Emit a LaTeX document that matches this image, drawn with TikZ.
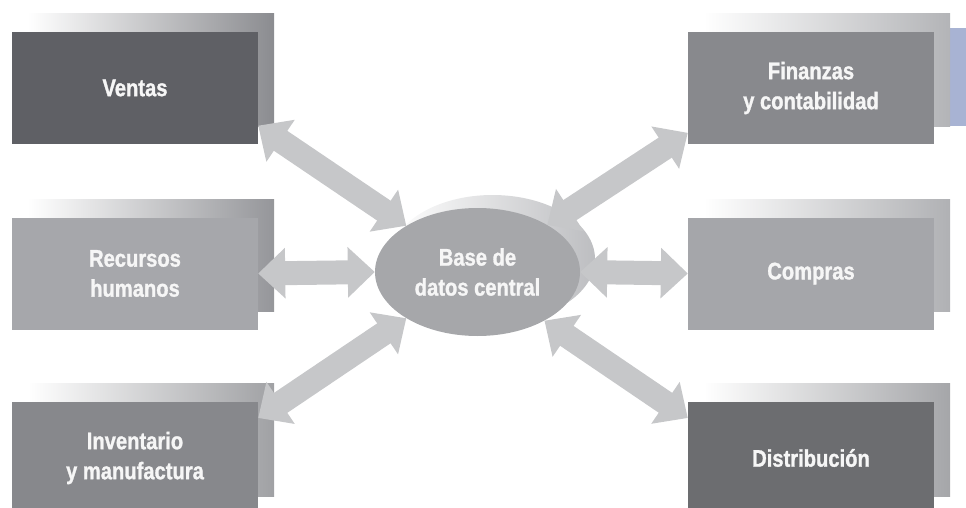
\documentclass[tikz,border=0pt]{standalone}
\usepackage{fontspec}
\setmainfont{Liberation Sans}[FakeStretch=0.84, BoldFeatures={FakeBold=1.2}]
\usetikzlibrary{arrows.meta,shapes.geometric,calc,backgrounds}
\definecolor{arrowgray}{HTML}{C6C7C9}
\definecolor{txt}{HTML}{F6F6F6}
\definecolor{fVentas}{HTML}{5F6065}
\definecolor{bVentas}{HTML}{8B8C90}
\definecolor{fFin}{HTML}{88898D}
\definecolor{bFin}{HTML}{B3B4B7}
\definecolor{fRec}{HTML}{A6A7AB}
\definecolor{bRec}{HTML}{95969A}
\definecolor{fCom}{HTML}{A5A6AA}
\definecolor{bCom}{HTML}{B0B1B4}
\definecolor{fInv}{HTML}{87888C}
\definecolor{bInv}{HTML}{A0A1A4}
\definecolor{fDis}{HTML}{6C6D70}
\definecolor{bDis}{HTML}{A5A6A9}
\definecolor{dbgray}{HTML}{A6A7AA}
\definecolor{dbshadow}{HTML}{BDBEC1}
\definecolor{bluish}{HTML}{A8B3D3}
\tikzset{
  box/.style={rectangle, minimum width=246pt, minimum height=112pt, inner sep=0pt,
    text=txt, align=center, font=\bfseries\fontsize{24}{30}\selectfont},
  dbnode/.style={ellipse, minimum width=205pt, minimum height=128pt, inner sep=0pt,
    fill=dbgray, text=txt, align=center, font=\bfseries\fontsize{24}{30}\selectfont},
  fat/.style={draw=arrowgray, line width=24pt,
    arrows={Triangle[width=49pt,length=27pt,fill=arrowgray]-Triangle[width=49pt,length=27pt,fill=arrowgray]}},
  backbox/.style={left color=white, right color=#1}
}
\begin{document}
\begin{tikzpicture}[x=1pt,y=-1pt]
\useasboundingbox (0,0) rectangle (966,508);
% front boxes
\node[box, fill=fVentas] (ventas) at (135,88) {Ventas};
\node[box, fill=fRec] (recursos) at (135,273.5) {Recursos\\humanos};
\node[box, fill=fInv] (inventario) at (135,458) {Inventario\\y manufactura};
\node[box, fill=fFin] (finanzas) at (811,88) {Finanzas\\y contabilidad};
\node[box, fill=fCom] (compras) at (811,273.5) {Compras};
\node[box, fill=fDis] (distribucion) at (811,458) {Distribución};
\node[dbnode] (db) at (477.5,272) {Base de\\datos central};
\begin{pgfonlayer}{background}
  \fill[bluish] ($(finanzas.north east)+(16,-4)$) rectangle ($(finanzas.south east)+(40,-18)$);
  \foreach \n/\c in {ventas/bVentas, recursos/bRec, inventario/bInv, finanzas/bFin, compras/bCom, distribucion/bDis}{
    \shade[backbox=\c] ($(\n.north west)+(16,-18)$) rectangle ($(\n.south east)+(16,-18)$);
  }
  \shade[left color=white, right color=dbshadow] ($(db.center)+(15,-13)$) ellipse [x radius=102.5, y radius=64];
\end{pgfonlayer}
% arrows
\draw[fat] (ventas.-17.2) -- (db.147.8);
\draw[fat] (recursos.east) -- (db.west);
\draw[fat] (inventario.18.7) -- (db.213.9);
\draw[fat] (finanzas.200) -- (db.34.2);
\draw[fat] (db.east) -- (compras.west);
\draw[fat] (db.-36.2) -- (distribucion.162.8);
\end{tikzpicture}
\end{document}
